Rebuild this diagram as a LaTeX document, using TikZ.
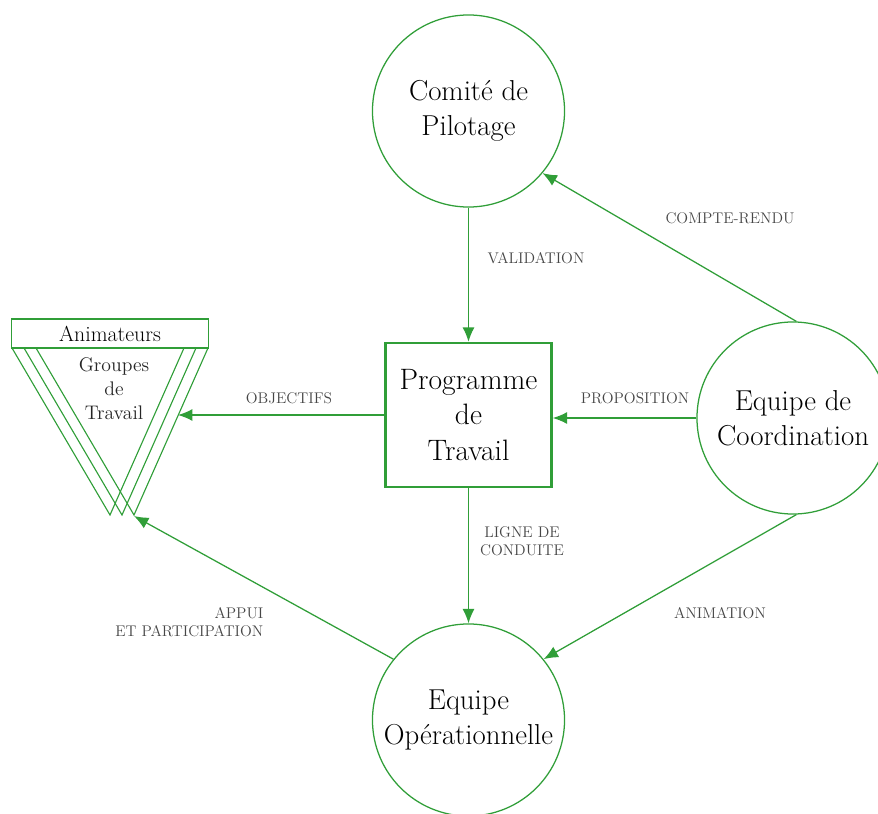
\documentclass[tikz,border=0pt]{standalone}
\usepackage{amsmath, amssymb}
\usepackage{tikz}
\usetikzlibrary{arrows.meta}
\definecolor{vert}{RGB}{48,158,56}
\definecolor{gristxt}{RGB}{70,70,70}

\begin{document}
\begin{tikzpicture}[x=0.025cm, y=-0.025cm,
    rond/.style={draw=vert, line width=0.9pt, circle, minimum size=4.8cm, inner sep=0pt, align=center, font=\fontsize{20.5}{24.5}\selectfont},
    fleche/.style={draw=vert, line width=0.9pt, -{Latex[length=3.6mm, width=3mm]}},
    lbl/.style={text=gristxt, font=\fontsize{11}{13}\selectfont, inner sep=1pt, align=center}]
            \useasboundingbox (0, 0) rectangle (878, 813);
            \node[rond] (comite) at (468.5, 111){Comit\'e de\\Pilotage};
            \node[rond] (coord) at (793, 418){Equipe de\\Coordination};
            \node[rond] (oper) at (468.5, 720){Equipe\\Op\'erationnelle};
            \node[draw=vert, line width=1.7pt, minimum width=4.15cm, minimum height=3.6cm, align=center, font=\fontsize{21}{25}\selectfont] (prog) at (468.5, 415){Programme\\de\\Travail};
            % groupes de travail
            \foreach \i in {0, 1, 2}
                \draw[vert, line width=0.8pt] (12+12*\i, 348) -- (110+12*\i, 515) -- (184+12*\i, 348);
            \node[draw=vert, fill=white, line width=1pt, minimum width=4.925cm, minimum height=0.725cm, inner sep=0pt, font=\fontsize{15.5}{17}\selectfont] (anim) at (110, 333.5){Animateurs};
            \node[align=center, font=\fontsize{14}{17}\selectfont, text=black!85] (groupes) at (114, 389){Groupes\\de\\Travail};
            \coordinate (gtdroit) at (178, 415);
            \coordinate (gtbas) at (134, 516);
            % fleches
            \draw[fleche] (comite) -- (prog);
            \draw[fleche] (coord.west) -- (prog.east |- coord.west);
            \draw[fleche] (prog.west) -- (gtdroit);
            \draw[fleche] (prog) -- (oper);
            \draw[fleche] (coord.88) -- (comite.-40);
            \draw[fleche] (coord.-88) -- (oper.39);
            \draw[fleche] (oper.141) -- (gtbas);
            % libelles
            \node[lbl] (lvalid) at (536, 258){VALIDATION};
            \node[lbl] (lprop) at (635, 398){PROPOSITION};
            \node[lbl] (lobj) at (289, 398){OBJECTIFS};
            \node[lbl] (lligne) at (522, 541){LIGNE DE\\CONDUITE};
            \node[lbl] (lcompte) at (730, 218){COMPTE-RENDU};
            \node[lbl] (lanim) at (720, 613){ANIMATION};
            \node[lbl, align=right, anchor=east] (lappui) at (265, 622){APPUI\\ET PARTICIPATION};
        \end{tikzpicture}
\end{document}
